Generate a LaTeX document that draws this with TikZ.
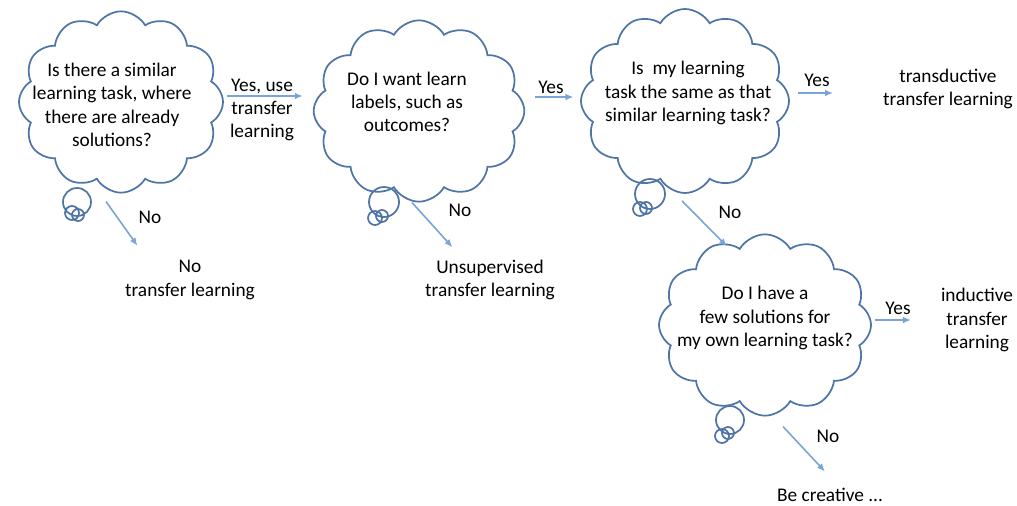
\documentclass[tikz,border=0pt]{standalone}
\usepackage{fontspec}
\setmainfont{Carlito}
\usetikzlibrary{shapes.symbols,arrows.meta}

\definecolor{cloudblue}{HTML}{4F74A6}
\definecolor{arrowblue}{HTML}{7AA4D8}

\tikzset{
  thought/.style={cloud, cloud puffs=12, cloud puff arc=120, cloud ignores aspect,
    draw=cloudblue, line width=1.3pt, inner sep=0pt},
  question/.style={align=center, font=\fontsize{14.5}{17.5}\selectfont},
  answer/.style={align=center, font=\fontsize{14.5}{17.5}\selectfont},
  flow/.style={draw=arrowblue, line width=1.2pt, -{Latex[length=6pt,width=5pt]}},
  bubble/.style={draw=cloudblue, line width=1.3pt}
}

\begin{document}
\begin{tikzpicture}[x=0.75pt,y=-0.75pt]
\useasboundingbox (0,0) rectangle (1017,506);
% clouds
\node[thought, minimum width=153pt, minimum height=136pt] (c1) at (121,102) {};
\node[thought, minimum width=158pt, minimum height=136pt] (c2) at (419,111) {};
\node[thought, minimum width=156pt, minimum height=138pt] (c3) at (685,101) {};
\node[thought, minimum width=159pt, minimum height=136pt] (c4) at (765,325) {};
% tails
\draw[bubble] (77,202) circle[radius=14] (72,213) circle[radius=7] (78,215) circle[radius=6];
\draw[bubble] (384,202) circle[radius=15] (375,218) circle[radius=7] (382,216) circle[radius=6];
\draw[bubble] (650,194) circle[radius=15] (640,209) circle[radius=7] (646,208) circle[radius=6];
\draw[bubble] (730,420) circle[radius=14] (722,436) circle[radius=7] (728,433) circle[radius=6];
% questions
\node[question] (q1) at (112,105) {Is there a similar\\learning task, where\\there are already\\solutions?};
\node[question] (q2) at (407,102) {Do I want learn\\labels, such as\\outcomes?};
\node[question] (q3) at (688,93) {Is~~my learning\\task the same as that\\similar learning task?};
\node[question] (q4) at (765,318) {Do I have a\\few solutions for\\my own learning task?};
% answers
\node[answer] (a1) at (190,280) {No\\transfer learning};
\node[answer] (a2) at (490,280) {Unsupervised\\transfer learning};
\node[answer] (a3) at (948,89) {transductive\\transfer learning};
\node[answer] (a4) at (977,320) {inductive\\transfer\\learning};
\node[answer] (a5) at (830,495) {Be creative ...};
% yes
\draw[flow, shorten <=2pt, shorten >=7.5pt] ([yshift=4.5pt]c1.east) -- ([yshift=4.5pt]c1.east -| c2.west);
\draw[flow, shorten <=7.5pt, shorten >=5pt] ([yshift=10.5pt]c2.east) -- ([yshift=10.5pt]c2.east -| c3.west);
\draw[flow, shorten <=6pt, shorten >=34pt] ([yshift=6pt]c3.east) -- ([yshift=6pt]c3.east -| a3.west);
\draw[flow, shorten <=2pt, shorten >=19pt] ([yshift=3.75pt]c4.east) -- ([yshift=3.75pt]c4.east -| a4.west);
\node[answer] (y1) at (262,110) {Yes, use\\transfer\\learning};
\node[answer] (y2) at (551,87) {Yes};
\node[answer] (y3) at (817,80) {Yes};
\node[answer] (y4) at (898,308) {Yes};
% no
\draw[flow] ([shift={(-15,8)}]c1.south) -- ([shift={(17,-10)}]a1.north west);
\draw[flow] ([shift={(-7,0)}]c2.south) -- ([shift={(32,-8)}]a2.north west);
\draw[flow] ([shift={(-3,7)}]c3.south) -- ([shift={(-38,13)}]c4.north);
\draw[flow] ([shift={(18,10)}]c4.south) -- ([shift={(-5,-12)}]a5.north);
\node[answer] (n1) at (150,217) {No};
\node[answer] (n2) at (460,210) {No};
\node[answer] (n3) at (730,212) {No};
\node[answer] (n4) at (828,436) {No};
\end{tikzpicture}
\end{document}
